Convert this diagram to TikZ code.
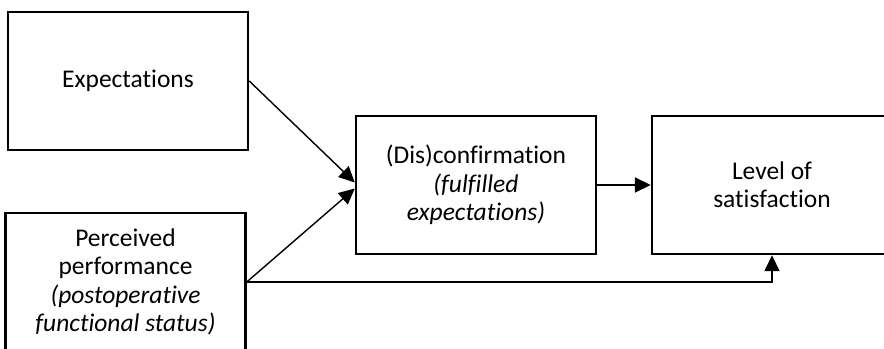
\documentclass[tikz,border=0pt]{standalone}
\usepackage{fontspec}
\setmainfont{Carlito}[Ligatures=NoCommon]
\usepackage{tikz}
\usetikzlibrary{calc}
\usetikzlibrary{arrows.meta}
\usetikzlibrary{positioning}
\tikzset{>={Triangle[length=9pt,width=8.5pt]}}
\tikzstyle{box} = [draw, line width=1.4pt, minimum width=4.8cm, minimum height=2.76cm, align=center, inner sep=0, font=\fontsize{14.5}{16.2}\selectfont]
\tikzstyle{link} = [->, line width=0.8pt]

\begin{document}
\begin{tikzpicture}
\clip (0, 0) rectangle (17.68, -6.96);
\node [box] (E) at (2.56, -1.62) {Expectations};
\node [box] (P) at (2.51, -5.64) {Perceived\\performance\\\textit{(postoperative}\\\textit{functional status)}};
\node [box] (D) at (9.52, -3.7) {(Dis)confirmation\\\textit{(fulfilled}\\\textit{expectations)}};
\node [box] (S) at (15.44, -3.7) {Level of\\satisfaction};
%\node [draw=none] at (9.5,-6.5) {};
\draw [link] (E.east) to ($(D.west)+(0,0.05)$);
\draw [link] (P.east) to ($(D.west)+(0,-0.07)$);
\draw [link] (D) to (S);
\draw [link] (P.east) -| (S.south);
\end{tikzpicture}
\end{document}
